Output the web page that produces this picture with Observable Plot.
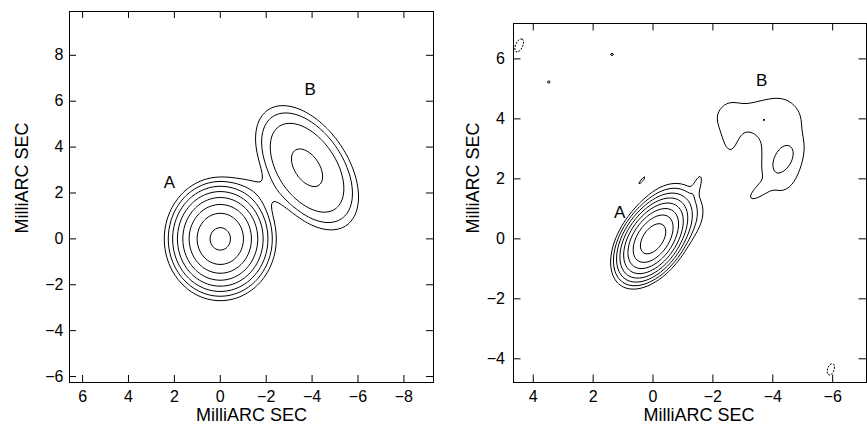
<!DOCTYPE html>
<html>
<head>
<meta charset="utf-8">
<script src="https://cdn.jsdelivr.net/npm/d3@7"></script>
<script src="https://cdn.jsdelivr.net/npm/@observablehq/plot@0.6"></script>
<style>
  html, body { margin: 0; padding: 0; background: #fff; }
  #wrap { position: relative; width: 867px; height: 427px; overflow: hidden; background: #fff; }
  #left, #right { position: absolute; top: 0; }
  #left { left: 0; }
  #right { left: 440px; }
</style>
</head>
<body>
<div id="wrap"><div id="left"></div><div id="right"></div></div>
<script>
// ---------- Axis text ----------
const axisTitle = "MilliARC SEC";

// ---------- Left panel (map 1) ----------
const leftXDomain = [6.57, -9.29];
const leftYDomain = [-6.26, 9.91];
const leftXTicks = [6, 4, 2, 0, -2, -4, -6, -8];
const leftYTicks = [-6, -4, -2, 0, 2, 4, 6, 8];
const leftLevels = [1, 2, 4, 8, 16, 32, 64, 128];
// components: position, peak (units of lowest contour), sigma major/minor, angle of major axis, profile exponent
const leftCompName = ["A", "B", "bridge"];
const leftCompX = [0, -3.78, -1.75];
const leftCompY = [0, 3.1, 2.15];
const leftCompAmp = [151, 8.41, 0.75];
const leftCompMaj = [0.85, 1.69, 0.8];
const leftCompMin = [0.77, 0.98, 0.4];
const leftCompPA = [90, 56, 39];
const leftCompShape = [1, 1.57, 1];
const leftLabelText = ["A", "B"];
const leftLabelX = [2.22, -3.92];
const leftLabelY = [2.46, 6.49];

// ---------- Right panel (map 2) ----------
const rightXDomain = [4.66, -7.13];
const rightYDomain = [-4.79, 7.18];
const rightXTicks = [4, 2, 0, -2, -4, -6];
const rightYTicks = [-4, -2, 0, 2, 4, 6];
const rightLevels = [1, 2, 4, 8, 16, 32, 64, 128];
const rightCompName = ["A core", "A jet", "A tail", "B body", "B core", "B cap", "B lobe", "B tail", "B spot", "arc", "spot1", "spot2"];
const rightCompX = [0.0, -0.8, -1.5, -4.3, -4.34, -3.2, -2.55, -3.55, -3.7, 0.37, 3.48, 1.37];
const rightCompY = [0.0, 0.9, 1.85, 3.0, 2.62, 4.1, 3.5, 1.6, 3.96, 1.95, 5.23, 6.15];
const rightCompAmp = [205, 3, 1.2, 1.5, 1.2, 1.25, 1.15, 1.2, 0.22, 1.3, 1.3, 1.3];
const rightCompMaj = [0.58, 0.55, 0.3, 1.5, 0.45, 0.9, 0.75, 0.35, 0.03, 0.2, 0.07, 0.07];
const rightCompMin = [0.34, 0.55, 0.1, 0.72, 0.25, 0.38, 0.3, 0.12, 0.03, 0.04, 0.05, 0.05];
const rightCompPA = [125, 125, 110, 90, 125, 0, 90, -40, 0, -50, 0, 0];
const rightCompShape = [1, 1, 1, 1, 1, 1, 1, 1, 1, 1, 1, 1];
// negative (dashed) contour islands
const rightNegX = [4.47, -5.94];
const rightNegY = [6.45, -4.35];
const rightNegAmp = [1.5, 1.5];
const rightNegMaj = [0.26, 0.22];
const rightNegMin = [0.13, 0.12];
const rightNegPA = [115, 110];
const rightNegShape = [1, 1];
const rightNegLevels = [1];
const rightLabelText = ["A", "B"];
const rightLabelX = [1.11, -3.63];
const rightLabelY = [0.89, 5.27];

// ---------- helpers ----------
function field(xs, ys, amps, majs, mins, pas, shapes) {
  return (x, y) => {
    let s = 0;
    for (let i = 0; i < xs.length; i++) {
      const t = pas[i] * Math.PI / 180;
      const dx = x - xs[i], dy = y - ys[i];
      const u = dx * Math.cos(t) + dy * Math.sin(t);
      const v = -dx * Math.sin(t) + dy * Math.cos(t);
      const q = 0.5 * ((u / majs[i]) ** 2 + (v / mins[i]) ** 2);
      s += amps[i] * Math.exp(-Math.pow(q, shapes[i]));
    }
    return s;
  };
}
const fmt = d => d < 0 ? "\u2212" + Math.abs(d) : String(d);
const font = "'Liberation Sans', Arial, Helvetica, sans-serif";

function panel(cfg) {
  const [x0, x1] = cfg.xDomain, [y0, y1] = cfg.yDomain;
  const w = cfg.width - cfg.ml - cfg.mr, h = cfg.height - cfg.mt - cfg.mb;
  const txl = cfg.tick / (h / (y1 - y0));            // tick length in y units
  const tyl = cfg.tick / (w / Math.abs(x1 - x0));    // tick length in x units
  const sx = Math.sign(x1 - x0);
  const marks = [
    Plot.contour({value: cfg.field, x1: x0, x2: x1, y1: y0, y2: y1, thresholds: cfg.levels,
      stroke: "black", fill: "none", strokeWidth: 1, pixelSize: 1, clip: true}),
  ];
  if (cfg.negField) marks.push(Plot.contour({value: cfg.negField, x1: x0, x2: x1, y1: y0, y2: y1,
      thresholds: cfg.negLevels, stroke: "black", fill: "none", strokeWidth: 1,
      strokeDasharray: "2,1.2", pixelSize: 1, clip: true}));
  marks.push(
    Plot.frame({stroke: "black", strokeWidth: 1}),
    Plot.ruleX(cfg.xTicks, {x: d => d, y1: y0, y2: y0 + txl, stroke: "black"}),
    Plot.ruleX(cfg.xTicks, {x: d => d, y1: y1, y2: y1 - txl, stroke: "black"}),
    Plot.ruleY(cfg.yTicks, {y: d => d, x1: x0, x2: x0 + sx * tyl, stroke: "black"}),
    Plot.ruleY(cfg.yTicks, {y: d => d, x1: x1, x2: x1 - sx * tyl, stroke: "black"}),
    Plot.axisX({ticks: cfg.xTicks, anchor: "bottom", tickSize: 0, tickPadding: cfg.xPad, tickFormat: fmt, fontSize: 16, label: null}),
    Plot.axisY({ticks: cfg.yTicks, anchor: "left", tickSize: 0, tickPadding: cfg.yPad, tickFormat: fmt, fontSize: 16, label: null}),
    Plot.text([axisTitle], {frameAnchor: "bottom", textAnchor: "middle", lineAnchor: "middle", dx: cfg.xlabDx, dy: cfg.xlabDy, fontSize: 18, fill: "black"}),
    Plot.text([axisTitle], {frameAnchor: "left", textAnchor: "middle", lineAnchor: "middle", rotate: -90, dx: cfg.ylabDx, dy: cfg.ylabDy, fontSize: 18, fill: "black"}),
    Plot.text(cfg.labelText, {x: (d, i) => cfg.labelX[i], y: (d, i) => cfg.labelY[i], text: d => d, fontSize: 17, fill: "black"})
  );
  return Plot.plot({
    width: cfg.width, height: cfg.height,
    marginLeft: cfg.ml, marginRight: cfg.mr, marginTop: cfg.mt, marginBottom: cfg.mb,
    x: {domain: cfg.xDomain}, y: {domain: cfg.yDomain},
    style: {fontFamily: font, color: "black", background: "white", overflow: "visible"},
    marks
  });
}

document.getElementById("left").appendChild(panel({
  width: 440, height: 427, ml: 69, mr: 7, mt: 11, mb: 45, tick: 7,
  xDomain: leftXDomain, yDomain: leftYDomain, xTicks: leftXTicks, yTicks: leftYTicks,
  levels: leftLevels,
  field: field(leftCompX, leftCompY, leftCompAmp, leftCompMaj, leftCompMin, leftCompPA, leftCompShape),
  xPad: 8, yPad: 6, xlabDx: 0, xlabDy: 32.6, ylabDx: -47.5, ylabDy: -19,
  labelText: leftLabelText, labelX: leftLabelX, labelY: leftLabelY
}));

document.getElementById("right").appendChild(panel({
  width: 427, height: 427, ml: 73, mr: 1, mt: 23, mb: 45, tick: 7.5,
  xDomain: rightXDomain, yDomain: rightYDomain, xTicks: rightXTicks, yTicks: rightYTicks,
  levels: rightLevels,
  field: field(rightCompX, rightCompY, rightCompAmp, rightCompMaj, rightCompMin, rightCompPA, rightCompShape),
  negField: field(rightNegX, rightNegY, rightNegAmp, rightNegMaj, rightNegMin, rightNegPA, rightNegShape),
  negLevels: rightNegLevels,
  xPad: 8, yPad: 8.5, xlabDx: 9, xlabDy: 32.6, ylabDx: -40, ylabDy: -25,
  labelText: rightLabelText, labelX: rightLabelX, labelY: rightLabelY
}));
</script>
</body>
</html>
